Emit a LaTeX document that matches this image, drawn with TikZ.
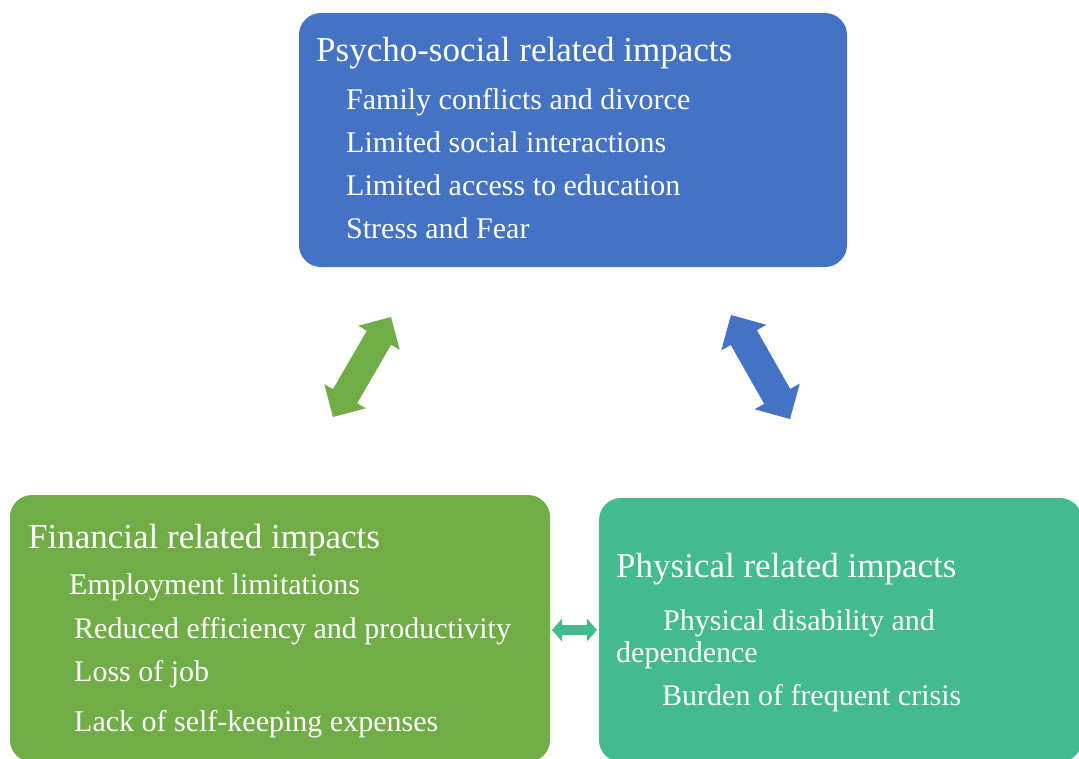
\documentclass[tikz,border=0pt]{standalone}
\usepackage{fontspec}
\setmainfont{Liberation Serif}
\usetikzlibrary{calc}
\definecolor{cblue}{HTML}{4472C4}
\definecolor{cgreen}{HTML}{70AD47}
\definecolor{cteal}{HTML}{44BB8E}
\tikzset{
  box/.style={rounded corners=22pt},
  ttl/.style={anchor=base west, inner sep=0pt, text=white, font=\fontsize{35}{42}\selectfont},
  itm/.style={anchor=base west, inner sep=0pt, text=white, font=\fontsize{30}{36}\selectfont}
}
% #1 name, #2 start, #3 end, #4 half shaft, #5 half head, #6 head length, #7 colour
\newcommand\blockarrow[7]{%
  \coordinate (#1h1) at ($(#2)!#6!(#3)$);
  \coordinate (#1h2) at ($(#3)!#6!(#2)$);
  \fill[#7] (#2) -- ($(#1h1)!#5!90:(#3)$) -- ($(#1h1)!#4!90:(#3)$)
    -- ($(#1h2)!#4!-90:(#2)$) -- ($(#1h2)!#5!-90:(#2)$) -- (#3)
    -- ($(#1h2)!#5!90:(#2)$) -- ($(#1h2)!#4!90:(#2)$)
    -- ($(#1h1)!#4!-90:(#3)$) -- ($(#1h1)!#5!-90:(#3)$) -- cycle;}
\begin{document}
\begin{tikzpicture}[x=1pt,y=-1pt]
\useasboundingbox (0,0) rectangle (1079,758);
% boxes
\fill[cblue,box] (299,13) rectangle (847,267);
\fill[cgreen,box] (10,495) rectangle (550,762);
\fill[cteal,box] (599,498) rectangle (1082,762);
% top texts
\node[ttl] (t1) at (316,61) {Psycho-social related impacts};
\node[itm] (t1a) at (346,109) {Family conflicts and divorce};
\node[itm] (t1b) at (346,152) {Limited social interactions};
\node[itm] (t1c) at (346,195) {Limited access to education};
\node[itm] (t1d) at (346,238) {Stress and Fear};
% financial texts
\node[ttl] (t2) at (28,548) {Financial related impacts};
\node[itm] (t2a) at (69,594) {Employment limitations};
\node[itm] (t2b) at (74,638) {Reduced efficiency and productivity};
\node[itm] (t2c) at (74,681) {Loss of job};
\node[itm] (t2d) at (74,731) {Lack of self-keeping expenses};
% physical texts
\node[ttl] (t3) at (616,577) {Physical related impacts};
\node[itm] (t3a) at (663,630) {Physical disability and};
\node[itm] (t3b) at (616,662) {dependence};
\node[itm] (t3c) at (662,705) {Burden of frequent crisis};
% arrows
\coordinate (ga) at (333,417);
\coordinate (gb) at (391,317);
\blockarrow{g}{ga}{gb}{14pt}{24pt}{24pt}{cgreen}
\coordinate (ba) at (731,315);
\coordinate (bb) at (790,419);
\blockarrow{b}{ba}{bb}{15pt}{26pt}{26pt}{cblue}
\coordinate (ta) at (552,630);
\coordinate (tb) at (597,630);
\blockarrow{t}{ta}{tb}{5pt}{11.5pt}{10pt}{cteal}
\end{tikzpicture}
\end{document}
